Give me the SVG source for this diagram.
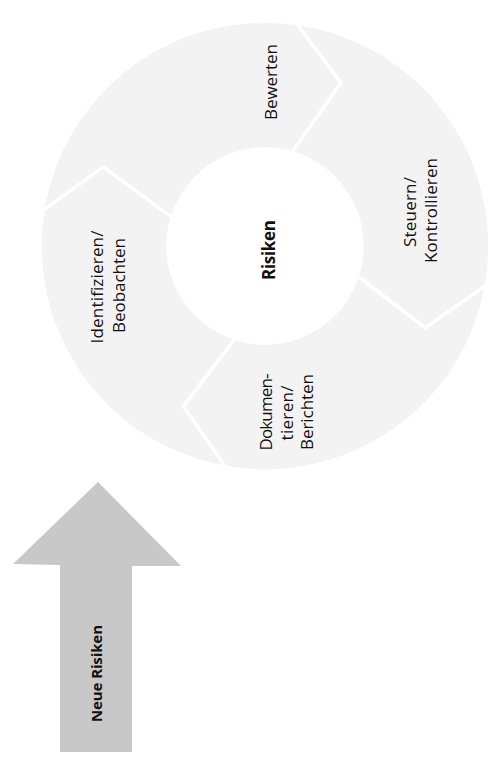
<svg xmlns="http://www.w3.org/2000/svg" width="499" height="771" viewBox="0 0 499 771">
<style>
.seg{fill:#f3f3f3;stroke:#ffffff;stroke-width:3.5;stroke-linejoin:miter}
.big{fill:#c8c8c8}
.lbl{font-family:"Open Sans","Liberation Sans",sans-serif;font-size:17px;fill:#111;text-anchor:middle}
.b{font-weight:bold}
</style>
<rect width="499" height="771" fill="#ffffff"/>
<g id="seg-bewerten">
<path class="seg" d="M42.77,210.80 A225,225 0 0 1 296.31,23.19 L341.07,82.86 L291.74,152.76 A97,97 0 0 0 172.24,217.64 L103.22,167.09 Z"/>
<text class="lbl" transform="translate(277,82) rotate(-90)" textLength="76" lengthAdjust="spacing">Bewerten</text>
</g>
<g id="seg-steuern">
<path class="seg" d="M296.31,23.19 A225,225 0 0 1 486.58,285.07 L425.38,327.72 L357.25,275.97 A97,97 0 0 0 291.74,152.76 L341.07,82.86 Z"/>
<text class="lbl" transform="translate(416,212) rotate(-90)" textLength="70" lengthAdjust="spacing">Steuern/</text>
<text class="lbl" transform="translate(437,210.5) rotate(-90)" textLength="105" lengthAdjust="spacing">Kontrollieren</text>
</g>
<g id="seg-dokumentieren">
<path class="seg" d="M486.58,285.07 A225,225 0 0 1 225.93,467.58 L183.28,406.38 L235.03,338.25 A97,97 0 0 0 357.25,275.97 L425.38,327.72 Z"/>
<text class="lbl" transform="translate(272,412) rotate(-90)" textLength="77" lengthAdjust="spacing">Dokumen-</text>
<text class="lbl" transform="translate(292.5,413) rotate(-90)" textLength="55" lengthAdjust="spacing">tieren/</text>
<text class="lbl" transform="translate(313,412) rotate(-90)" textLength="76" lengthAdjust="spacing">Berichten</text>
</g>
<g id="seg-identifizieren">
<path class="seg" d="M225.93,467.58 A225,225 0 0 1 42.77,210.80 L103.22,167.09 L172.24,217.64 A97,97 0 0 0 235.03,338.25 L183.28,406.38 Z"/>
<text class="lbl" transform="translate(103,287) rotate(-90)" textLength="113" lengthAdjust="spacing">Identifizieren/</text>
<text class="lbl" transform="translate(125,285.5) rotate(-90)" textLength="95" lengthAdjust="spacing">Beobachten</text>
</g>
<g id="center-risiken">
<text class="lbl b" transform="translate(275,250) rotate(-90)" textLength="60" lengthAdjust="spacing">Risiken</text>
</g>
<g id="neue-risiken">
<polygon class="big" points="98,482 181,566 132,566 132,752 60,752 60,565 13,564"/>
<text class="lbl b" style="font-size:15px" transform="translate(102,673.5) rotate(-90)" textLength="97" lengthAdjust="spacing">Neue Risiken</text>
</g>
<g id="connectors"></g>
</svg>
